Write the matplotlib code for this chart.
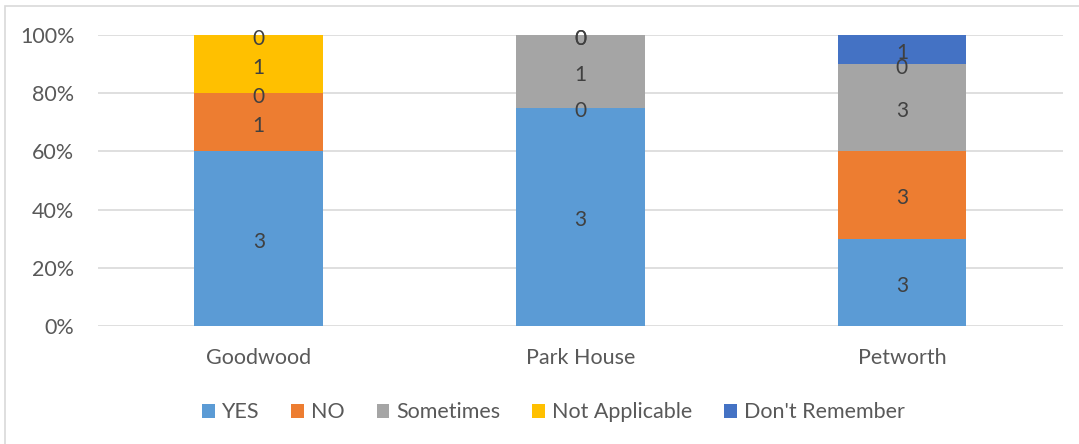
import numpy as np
import matplotlib
matplotlib.use('Agg')
from matplotlib import pyplot as plt
from matplotlib.patches import Rectangle

plt.rcParams['font.family'] = ['Lato', 'DejaVu Sans']

sites = ['Goodwood', 'Park House', 'Petworth']
answers = ['YES', 'NO', 'Sometimes', 'Not Applicable', "Don't Remember"]
colors = ['#5B9BD5', '#ED7D31', '#A5A5A5', '#FFC000', '#4472C4']

# response counts per site
yes = [3, 3, 3]
no = [1, 0, 3]
sometimes = [0, 1, 3]
not_applicable = [1, 0, 0]
dont_remember = [0, 0, 1]

counts = np.array([yes, no, sometimes, not_applicable, dont_remember], dtype=float)
shares = counts / counts.sum(axis=0)

fig = plt.figure(figsize=(10.79, 4.44), dpi=100)
ax = fig.add_axes([0.0908, 0.266, 0.894, 0.655])

# light frame round the chart area
fig.patches.append(Rectangle((5 / 1079, -0.01), 1.1, 1 - 6 / 444 + 0.01,
                             transform=fig.transFigure, fill=False,
                             edgecolor='#D9D9D9', linewidth=1.2))

x = np.arange(len(sites))
bottom = np.zeros(len(sites))
for i, name in enumerate(answers):
    ax.bar(x, shares[i], 0.4, bottom=bottom, color=colors[i], label=name, zorder=2)
    for j in range(len(sites)):
        ax.annotate('%d' % counts[i][j], (x[j], bottom[j] + shares[i][j] / 2),
                    xytext=(0, -2.5), textcoords='offset points',
                    ha='center', va='center', fontsize=15, color='#404040', zorder=3)
    bottom += shares[i]

ax.set_xlim(-0.5, 2.5)
ax.set_ylim(0, 1)
ax.set_yticks(np.arange(0, 1.01, 0.2))
ax.set_yticklabels(['%d%%' % v for v in range(0, 101, 20)])
ax.set_xticks(x)
ax.set_xticklabels(sites)
ax.yaxis.grid(True, color='#D9D9D9', linewidth=1.2, zorder=0)
for s in ax.spines.values():
    s.set_visible(False)
ax.tick_params(length=0, labelsize=15.5, labelcolor='#595959')
ax.tick_params(axis='y', pad=17)
ax.tick_params(axis='x', pad=16)

ax.legend(loc='upper center', bbox_to_anchor=(0.472, -0.196), ncol=5, frameon=False,
          fontsize=15.5, handlelength=0.6, handleheight=0.6, handletextpad=0.3,
          columnspacing=1.5, labelcolor='#595959')

fig.savefig('out.png', dpi=100)
